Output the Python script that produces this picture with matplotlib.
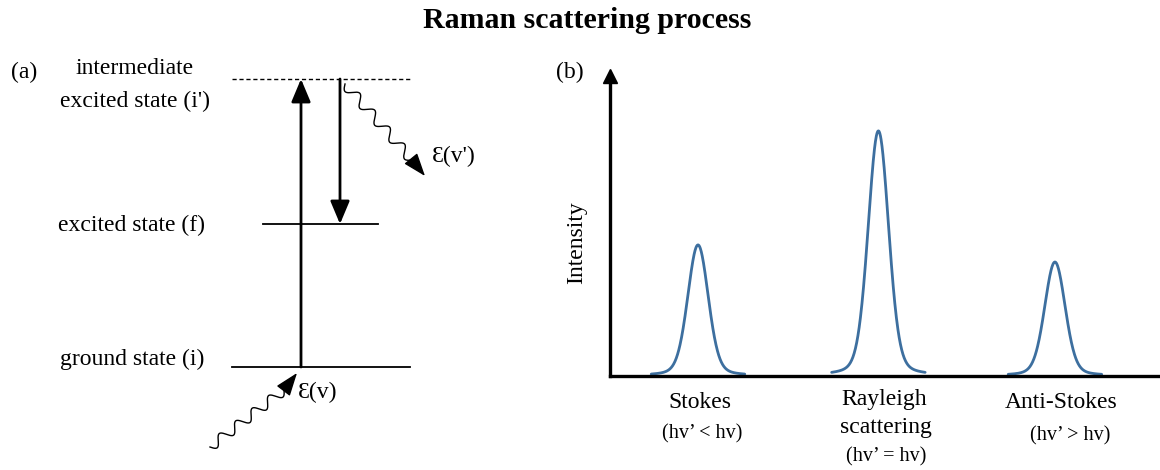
import numpy as np
import matplotlib
matplotlib.use("Agg")
import matplotlib.pyplot as plt

plt.rcParams['font.family'] = ['Liberation Serif', 'DejaVu Serif']

# ---------------- data ----------------
peak_names = ["Stokes", "Rayleigh\nscattering", "Anti-Stokes"]
peak_notes = ["(hv\u2019 < hv)", "(hv\u2019 = hv)", "(hv\u2019 > hv)"]
peak_centers = [16.0, 48.8, 80.9]          # position along x (0-100)
peak_heights = [0.437, 0.817, 0.38]        # intensity (0-1)
peak_width = 1.85                          # gaussian sigma

# energy-level diagram (pixel-like coordinates, y downward)
level_y = [79, 224, 367]
level_x0 = [232, 263, 232]
level_x1 = [412, 378, 410]
level_style = ["--", "-", "-"]

W, H = 1160, 470
fig = plt.figure(figsize=(W / 100, H / 100), dpi=100)
FS = 17
FS_NOTE = 14.5

# ---------------- panel (a) ----------------
axa = fig.add_axes([0, 0, 1, 1])
axa.set_xlim(0, W)
axa.set_ylim(H, 0)
axa.axis("off")

for y, x0, x1, ls in zip(level_y, level_x0, level_x1, level_style):
    if ls == "--":
        axa.plot([x0, x1], [y, y], color="black", lw=1.0, ls="--", dashes=(3, 2))
    else:
        axa.plot([x0, x1], [y, y], color="black", lw=1.3)

axa.text(135, 69, "intermediate", fontsize=FS, ha="center", va="center")
axa.text(135, 101, "excited state (i')", fontsize=FS, ha="center", va="center")
axa.text(132, 225, "excited state (f)", fontsize=FS, ha="center", va="center")
axa.text(132, 359, "ground state (i)", fontsize=FS, ha="center", va="center")
axa.text(24, 72, "(a)", fontsize=FS, ha="center", va="center")

arrow_kw = dict(arrowstyle="-|>,head_length=1.0,head_width=0.42", mutation_scale=14,
                lw=2.0, color="black", shrinkA=0, shrinkB=0)
axa.annotate("", xy=(301, level_y[0]), xytext=(301, level_y[2]), arrowprops=arrow_kw)
axa.annotate("", xy=(340, level_y[1]), xytext=(340, level_y[0]), arrowprops=arrow_kw)


def wavy(ax, p0, p1, tip, cycles, amp):
    p0 = np.array(p0, float); p1 = np.array(p1, float)
    d = p1 - p0
    L = np.hypot(*d)
    u = d / L
    n = np.array([-u[1], u[0]])
    t = np.linspace(0, 1, 300)
    pts = p0[None, :] + t[:, None] * d[None, :] + (amp * np.sin(2 * np.pi * cycles * t))[:, None] * n[None, :]
    ax.plot(pts[:, 0], pts[:, 1], color="black", lw=1.0)
    ax.annotate("", xy=tip, xytext=tuple(p1),
                arrowprops=dict(arrowstyle="-|>,head_length=1.1,head_width=0.4", mutation_scale=13,
                                lw=1.0, color="black", shrinkA=0, shrinkB=0))


wavy(axa, (345, 84), (412, 160), (425, 176), 4.5, 5.0)
wavy(axa, (210, 447), (284, 390), (297, 373), 4.5, 5.0)

axa.text(432, 156, "\u0190(v')", fontsize=FS, ha="left", va="center")
axa.text(298, 392, "\u0190(v)", fontsize=FS, ha="left", va="center")

# ---------------- panel (b) ----------------
left_px, right_px, base_px, top_px = 610, 1160, 376, 76
axb = fig.add_axes([left_px / W, (H - base_px) / H, (right_px - left_px) / W, (base_px - top_px) / H])
axb.set_xlim(0, 100)
axb.set_ylim(0, 1)
for s in ["top", "right"]:
    axb.spines[s].set_visible(False)
for s in ["left", "bottom"]:
    axb.spines[s].set_linewidth(2.4)
axb.set_xticks([]); axb.set_yticks([])
axb.patch.set_alpha(0)
axb.plot(0, 1, marker="^", markersize=10, color="black", transform=axb.transAxes, clip_on=False)
axa.text(577, 243, "Intensity", fontsize=FS, rotation=90, ha="center", va="center")

for c, h in zip(peak_centers, peak_heights):
    x = np.linspace(c - 8.5, c + 8.5, 300)
    core = np.exp(-0.5 * ((x - c) / peak_width) ** 2)
    lor = 1 / (1 + ((x - c) / (peak_width * 1.3)) ** 2)
    y = h * (0.8 * core + 0.2 * lor)
    axb.plot(x, y, color="#3d6f9f", lw=2.0, solid_capstyle="round", clip_on=False)

axa.text(700, 402, peak_names[0], fontsize=FS, ha="center", va="center")
axa.text(702, 434, peak_notes[0], fontsize=FS_NOTE, ha="center", va="center")
axa.text(884, 400, "Rayleigh", fontsize=FS, ha="center", va="center")
axa.text(886, 428, "scattering", fontsize=FS, ha="center", va="center")
axa.text(886, 457, peak_notes[1], fontsize=FS_NOTE, ha="center", va="center")
axa.text(1061, 402, peak_names[2], fontsize=FS, ha="center", va="center")
axa.text(1070, 436, peak_notes[2], fontsize=FS_NOTE, ha="center", va="center")
axa.text(570, 72, "(b)", fontsize=FS, ha="center", va="center")

fig.text(587 / W, 1 - 20 / H, "Raman scattering process", fontsize=21.5, fontweight="bold",
         ha="center", va="center")

fig.savefig("out.png", dpi=100)
